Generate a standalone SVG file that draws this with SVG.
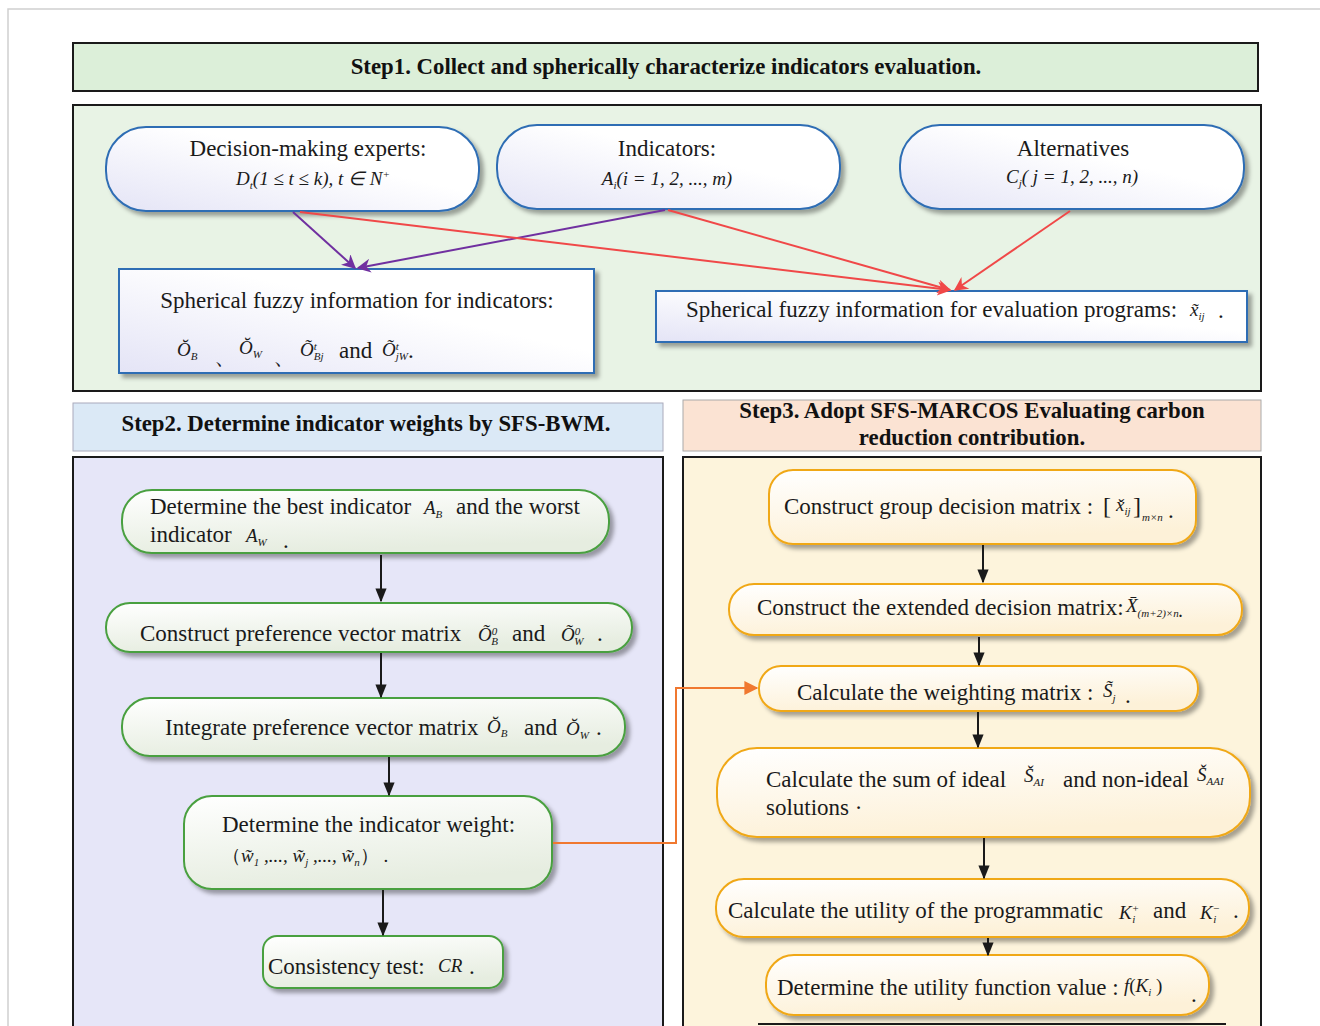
<svg xmlns="http://www.w3.org/2000/svg" width="1320" height="1026" viewBox="0 0 1320 1026">
<defs>
<style>
.t{font-family:"Liberation Serif","Times New Roman",serif;font-size:23px;fill:#1a1a1a}
.m{font-family:"Liberation Serif","Times New Roman",serif;font-style:italic;font-size:19px;fill:#1a1a1a}
.s{font-size:11px}
.h{font-family:"Liberation Serif","Times New Roman",serif;font-weight:bold;font-size:22.8px;fill:#111}
.bn{stroke:#2e6db4;stroke-width:2;fill:url(#gb)}
.gn{stroke:#4aa040;stroke-width:2;fill:url(#gg)}
.on{stroke:#f0a818;stroke-width:2;fill:url(#go)}
</style>
<linearGradient id="gb" x1="0" y1="1" x2="1" y2="0"><stop offset="0" stop-color="#e4e4f6"/><stop offset="0.6" stop-color="#ffffff"/></linearGradient>
<linearGradient id="gg" x1="0" y1="0" x2="0.3" y2="1"><stop offset="0" stop-color="#ffffff"/><stop offset="1" stop-color="#e6ede0"/></linearGradient>
<linearGradient id="go" x1="0" y1="0" x2="0.3" y2="1"><stop offset="0" stop-color="#ffffff"/><stop offset="1" stop-color="#fdf1d8"/></linearGradient>
<filter id="sh" x="-5%" y="-10%" width="115%" height="130%"><feDropShadow dx="4" dy="4" stdDeviation="2" flood-color="#000" flood-opacity="0.35"/></filter>
<marker id="ap" viewBox="0 0 10 10" refX="9" refY="5" markerWidth="16" markerHeight="14" orient="auto" markerUnits="userSpaceOnUse"><path d="M0,0 L10,5 L0,10 L3,5 z" fill="#7030a0"/></marker>
<marker id="ar" viewBox="0 0 10 10" refX="9" refY="5" markerWidth="16" markerHeight="14" orient="auto" markerUnits="userSpaceOnUse"><path d="M0,0 L10,5 L0,10 L3,5 z" fill="#f04848"/></marker>
<marker id="ao" viewBox="0 0 10 10" refX="9" refY="5" markerWidth="16" markerHeight="14" orient="auto" markerUnits="userSpaceOnUse"><path d="M0,0 L10,5 L0,10 z" fill="#f07830"/></marker>
<marker id="ab" viewBox="0 0 10 10" refX="9" refY="5" markerWidth="14" markerHeight="14" orient="auto" markerUnits="userSpaceOnUse"><path d="M0,1 L10,5 L0,9 z" fill="#1a1a1a"/></marker>
</defs>
<rect width="1320" height="1026" fill="#ffffff"/>
<path d="M8,1026 L8,9 L1320,9" fill="none" stroke="#d0d0d0" stroke-width="1.5"/>

<g id="step1-header">
<rect x="73" y="43" width="1185" height="48" fill="#dcefd9" stroke="#1a1a1a" stroke-width="2"/>
<text class="h" x="666" y="74" text-anchor="middle">Step1. Collect and spherically characterize indicators evaluation.</text>
</g>
<rect x="73" y="105" width="1188" height="286" fill="#e8f3e5" stroke="#1a1a1a" stroke-width="2"/>
<g id="step2-header">
<rect x="73" y="403" width="590" height="48" fill="#dbe9f6" stroke="#aab" stroke-width="1"/>
<text class="h" x="366" y="431" text-anchor="middle">Step2. Determine indicator weights by SFS-BWM.</text>
</g>
<g id="step3-header">
<rect x="683" y="400" width="578" height="51" fill="#fbe3d3" stroke="#aaa" stroke-width="1"/>
<text class="h" x="972" y="418" text-anchor="middle">Step3. Adopt SFS-MARCOS Evaluating carbon</text>
<text class="h" x="972" y="445" text-anchor="middle">reduction contribution.</text>
</g>
<rect x="73" y="457" width="590" height="590" fill="#e6e6f8" stroke="#1a1a1a" stroke-width="2"/>
<rect x="683" y="457" width="578" height="590" fill="#fdf4dc" stroke="#1a1a1a" stroke-width="2"/>

<g id="experts">
<rect class="bn" x="106" y="127" width="373" height="84" rx="40" filter="url(#sh)"/>
<text class="t" x="308" y="156" text-anchor="middle">Decision-making experts:</text>
<text class="m" x="313" y="185" text-anchor="middle">D<tspan class="s" dy="4">t</tspan><tspan dy="-4">(1 ≤ t ≤ k), t ∈ N</tspan><tspan class="s" dy="-7">+</tspan></text>
</g>
<g id="indicators">
<rect class="bn" x="497" y="125" width="343" height="84" rx="40" filter="url(#sh)"/>
<text class="t" x="667" y="156" text-anchor="middle">Indicators:</text>
<text class="m" x="667" y="185" text-anchor="middle">A<tspan class="s" dy="4">i</tspan><tspan dy="-4">(i = 1, 2, ..., m)</tspan></text>
</g>
<g id="alternatives">
<rect class="bn" x="900" y="125" width="344" height="84" rx="40" filter="url(#sh)"/>
<text class="t" x="1073" y="156" text-anchor="middle">Alternatives</text>
<text class="m" x="1072" y="183" text-anchor="middle">C<tspan class="s" dy="4">j</tspan><tspan dy="-4">( j = 1, 2, ..., n)</tspan></text>
</g>
<g id="sf-indicators">
<rect x="119" y="269" width="475" height="104" fill="url(#gb)" stroke="#2e6db4" stroke-width="2" filter="url(#sh)"/>
<text class="t" x="357" y="308" text-anchor="middle">Spherical fuzzy information for indicators:</text>
<text class="m" x="177" y="356">Ŏ<tspan class="s" dy="4">B</tspan></text>
<text class="t" x="214" y="364">、</text>
<text class="m" x="239" y="354">Ŏ<tspan class="s" dy="4">W</tspan></text>
<text class="t" x="273" y="364">、</text>
<text class="m" x="300" y="356">Õ<tspan class="s" dy="-6">t</tspan><tspan class="s" dx="-3" dy="10">Bj</tspan></text>
<text class="t" x="339" y="358">and</text>
<text class="m" x="382" y="356">Õ<tspan class="s" dy="-6">t</tspan><tspan class="s" dx="-3" dy="10">jW</tspan><tspan class="t" style="font-style:normal" dy="-2">.</tspan></text>
</g>
<g id="sf-programs">
<rect x="656" y="291" width="591" height="51" fill="url(#gb)" stroke="#2e6db4" stroke-width="2" filter="url(#sh)"/>
<text class="t" x="686" y="317">Spherical fuzzy information for evaluation programs:</text>
<text class="m" x="1190" y="316">x̃<tspan class="s" dy="4">ij</tspan></text>
<text class="t" x="1218" y="318">.</text>
</g>

<g id="best-worst">
<rect class="gn" x="122" y="490" width="487" height="63" rx="30" filter="url(#sh)"/>
<text class="t" x="150" y="514">Determine the best indicator</text>
<text class="m" x="424" y="514">A<tspan class="s" dy="4">B</tspan></text>
<text class="t" x="456" y="514">and the worst</text>
<text class="t" x="150" y="542">indicator</text>
<text class="m" x="246" y="542">A<tspan class="s" dy="4">W</tspan></text>
<text class="t" x="283" y="548">.</text>
</g>
<g id="pref-vector">
<rect class="gn" x="106" y="603" width="526" height="49" rx="24" filter="url(#sh)"/>
<text class="t" x="140" y="641">Construct preference vector matrix</text>
<text class="m" x="478" y="641">Õ<tspan class="s" dy="-6">0</tspan><tspan class="s" dx="-6" dy="10">B</tspan></text>
<text class="t" x="512" y="641">and</text>
<text class="m" x="561" y="641">Õ<tspan class="s" dy="-6">0</tspan><tspan class="s" dx="-6" dy="10">W</tspan></text>
<text class="t" x="597" y="641">.</text>
</g>
<g id="integrate">
<rect class="gn" x="122" y="698" width="503" height="58" rx="28" filter="url(#sh)"/>
<text class="t" x="165" y="735">Integrate preference vector matrix</text>
<text class="m" x="487" y="733">Ŏ<tspan class="s" dy="4">B</tspan></text>
<text class="t" x="524" y="735">and</text>
<text class="m" x="566" y="735">Ŏ<tspan class="s" dy="4">W</tspan></text>
<text class="t" x="596" y="735">.</text>
</g>
<g id="weight">
<rect class="gn" x="184" y="796" width="368" height="93" rx="28" filter="url(#sh)"/>
<text class="t" x="222" y="832">Determine the indicator weight:</text>
<text class="m" x="222" y="862"><tspan style="font-style:normal">（</tspan>w̃<tspan class="s" dy="4">1</tspan><tspan dy="-4"> ,..., w̃</tspan><tspan class="s" dy="4">j</tspan><tspan dy="-4"> ,..., w̃</tspan><tspan class="s" dy="4">n</tspan><tspan dy="-4" style="font-style:normal">）</tspan><tspan style="font-style:normal"> .</tspan></text>
</g>
<g id="consistency">
<rect class="gn" x="263" y="936" width="240" height="52" rx="14" filter="url(#sh)"/>
<text class="t" x="268" y="974">Consistency test:</text>
<text class="m" x="438" y="972">CR</text>
<text class="t" x="469" y="974">.</text>
</g>

<g id="group-matrix">
<rect class="on" x="769" y="470" width="427" height="74" rx="24" filter="url(#sh)"/>
<text class="t" x="784" y="514">Construct group decision matrix :</text>
<text class="t" x="1103" y="514" style="font-size:24px">[</text>
<text class="m" x="1116" y="511">x̌<tspan class="s" dy="4">ij</tspan></text>
<text class="t" x="1133" y="514" style="font-size:24px">]</text>
<text class="m s" x="1142" y="521">m×n</text>
<text class="t" x="1168" y="518">.</text>
</g>
<g id="extended">
<rect class="on" x="729" y="584" width="513" height="51" rx="25" filter="url(#sh)"/>
<text class="t" x="757" y="615">Construct the extended decision matrix:</text>
<text class="m" x="1126" y="612">X̄<tspan class="s" dy="5">(m+2)×n</tspan><tspan class="t" style="font-style:normal;font-weight:bold;font-size:14px">.</tspan></text>
</g>
<g id="weighting">
<rect class="on" x="759" y="666" width="439" height="45" rx="22" filter="url(#sh)"/>
<text class="t" x="797" y="700">Calculate the weighting matrix :</text>
<text class="m" x="1103" y="697">S̃<tspan class="s" dy="5">j</tspan></text>
<text class="t" x="1125" y="703">.</text>
</g>
<g id="ideal">
<rect class="on" x="717" y="748" width="533" height="89" rx="40" filter="url(#sh)"/>
<text class="t" x="766" y="787">Calculate the sum of ideal</text>
<text class="m" x="1024" y="782">Š<tspan class="s" dy="4">AI</tspan></text>
<text class="t" x="1063" y="787">and non-ideal</text>
<text class="m" x="1197" y="781">Š<tspan class="s" dy="4">AAI</tspan></text>
<text class="t" x="766" y="815">solutions ·</text>
</g>
<g id="utility">
<rect class="on" x="716" y="879" width="533" height="58" rx="28" filter="url(#sh)"/>
<text class="t" x="728" y="918">Calculate the utility of the programmatic</text>
<text class="m" x="1119" y="919">K<tspan class="s" dy="-7">+</tspan><tspan class="s" dx="-7" dy="11">i</tspan></text>
<text class="t" x="1153" y="918">and</text>
<text class="m" x="1200" y="919">K<tspan class="s" dy="-7">−</tspan><tspan class="s" dx="-7" dy="11">i</tspan></text>
<text class="t" x="1233" y="918">.</text>
</g>
<g id="utility-fn">
<rect class="on" x="766" y="955" width="443" height="60" rx="28" filter="url(#sh)"/>
<text class="t" x="777" y="995">Determine the utility function value :</text>
<text class="m" x="1124" y="992">f<tspan style="font-style:normal">(</tspan>K<tspan class="s" dy="4">i</tspan><tspan dy="-4" style="font-style:normal"> )</tspan></text>
<text class="t" x="1191" y="1002">.</text>
</g>
<line x1="758" y1="1024" x2="1226" y2="1024" stroke="#1a1a1a" stroke-width="2"/>

<g id="connectors" fill="none">
<line x1="293" y1="212" x2="355" y2="268" stroke="#7030a0" stroke-width="2" marker-end="url(#ap)"/>
<line x1="665" y1="210" x2="358" y2="268" stroke="#7030a0" stroke-width="2" marker-end="url(#ap)"/>
<line x1="300" y1="212" x2="950" y2="290" stroke="#f04848" stroke-width="2" marker-end="url(#ar)"/>
<line x1="668" y1="210" x2="950" y2="290" stroke="#f04848" stroke-width="2" marker-end="url(#ar)"/>
<line x1="1070" y1="211" x2="955" y2="290" stroke="#f04848" stroke-width="2" marker-end="url(#ar)"/>
<line x1="381" y1="555" x2="381" y2="601" stroke="#1a1a1a" stroke-width="2" marker-end="url(#ab)"/>
<line x1="381" y1="653" x2="381" y2="697" stroke="#1a1a1a" stroke-width="2" marker-end="url(#ab)"/>
<line x1="389" y1="757" x2="389" y2="795" stroke="#1a1a1a" stroke-width="2" marker-end="url(#ab)"/>
<line x1="383" y1="890" x2="383" y2="935" stroke="#1a1a1a" stroke-width="2" marker-end="url(#ab)"/>
<polyline points="553,843 676,843 676,688 757,688" stroke="#f07830" stroke-width="2" marker-end="url(#ao)"/>
<line x1="983" y1="545" x2="983" y2="582" stroke="#1a1a1a" stroke-width="2" marker-end="url(#ab)"/>
<line x1="979" y1="637" x2="979" y2="665" stroke="#1a1a1a" stroke-width="2" marker-end="url(#ab)"/>
<line x1="978" y1="712" x2="978" y2="747" stroke="#1a1a1a" stroke-width="2" marker-end="url(#ab)"/>
<line x1="984" y1="838" x2="984" y2="878" stroke="#1a1a1a" stroke-width="2" marker-end="url(#ab)"/>
<line x1="988" y1="938" x2="988" y2="955" stroke="#1a1a1a" stroke-width="2" marker-end="url(#ab)"/>
</g>
</svg>
